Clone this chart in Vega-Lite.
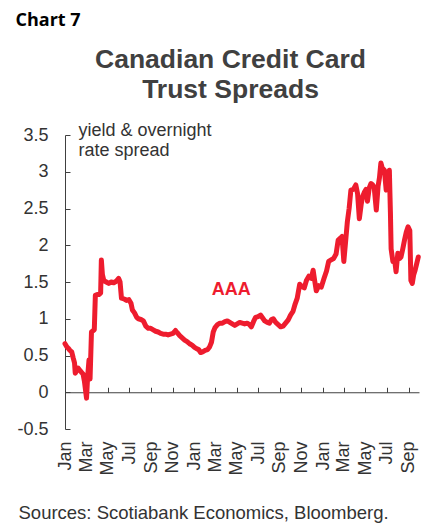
{
  "$schema": "https://vega.github.io/schema/vega-lite/v6.json",
  "width": 354,
  "height": 294,
  "autosize": {"type": "none"},
  "padding": {"left": 65, "top": 135, "right": 9, "bottom": 94},
  "background": "white",
  "config": {
    "view": {"stroke": null},
    "font": "Liberation Sans",
    "axis": {
      "grid": false,
      "domainColor": "#404040",
      "tickColor": "#404040",
      "labelColor": "#333333",
      "labelFont": "Liberation Sans",
      "labelFontSize": 18,
      "titleFont": "Liberation Sans",
      "titleFontWeight": "normal",
      "titleFontSize": 18,
      "titleColor": "#333333"
    }
  },
  "datasets": {
    "series": [
      {"date": "2020-01-01", "value": 0.66},
      {"date": "2020-01-06", "value": 0.62},
      {"date": "2020-01-10", "value": 0.60},
      {"date": "2020-01-15", "value": 0.57},
      {"date": "2020-01-20", "value": 0.55},
      {"date": "2020-01-24", "value": 0.47},
      {"date": "2020-01-28", "value": 0.40},
      {"date": "2020-01-30", "value": 0.26},
      {"date": "2020-02-04", "value": 0.30},
      {"date": "2020-02-07", "value": 0.33},
      {"date": "2020-02-12", "value": 0.30},
      {"date": "2020-02-17", "value": 0.27},
      {"date": "2020-02-21", "value": 0.25},
      {"date": "2020-02-25", "value": 0.15},
      {"date": "2020-03-02", "value": -0.08},
      {"date": "2020-03-05", "value": 0.20},
      {"date": "2020-03-09", "value": 0.44},
      {"date": "2020-03-12", "value": 0.18},
      {"date": "2020-03-16", "value": 0.82},
      {"date": "2020-03-24", "value": 0.85},
      {"date": "2020-03-27", "value": 1.32},
      {"date": "2020-04-01", "value": 1.33},
      {"date": "2020-04-06", "value": 1.33},
      {"date": "2020-04-11", "value": 1.35},
      {"date": "2020-04-13", "value": 1.80},
      {"date": "2020-04-16", "value": 1.60},
      {"date": "2020-04-20", "value": 1.52},
      {"date": "2020-04-27", "value": 1.50},
      {"date": "2020-05-04", "value": 1.48},
      {"date": "2020-05-11", "value": 1.50},
      {"date": "2020-05-18", "value": 1.49},
      {"date": "2020-05-25", "value": 1.51},
      {"date": "2020-06-01", "value": 1.55},
      {"date": "2020-06-05", "value": 1.50},
      {"date": "2020-06-09", "value": 1.28},
      {"date": "2020-06-16", "value": 1.27},
      {"date": "2020-06-23", "value": 1.25},
      {"date": "2020-06-30", "value": 1.26},
      {"date": "2020-07-06", "value": 1.21},
      {"date": "2020-07-10", "value": 1.12},
      {"date": "2020-07-16", "value": 1.08},
      {"date": "2020-07-22", "value": 1.02},
      {"date": "2020-07-27", "value": 1.00},
      {"date": "2020-08-03", "value": 0.99},
      {"date": "2020-08-10", "value": 0.97},
      {"date": "2020-08-17", "value": 0.90},
      {"date": "2020-08-24", "value": 0.87},
      {"date": "2020-08-31", "value": 0.87},
      {"date": "2020-09-07", "value": 0.85},
      {"date": "2020-09-14", "value": 0.83},
      {"date": "2020-09-21", "value": 0.82},
      {"date": "2020-09-28", "value": 0.80},
      {"date": "2020-10-05", "value": 0.79},
      {"date": "2020-10-12", "value": 0.79},
      {"date": "2020-10-19", "value": 0.78},
      {"date": "2020-10-26", "value": 0.79},
      {"date": "2020-11-02", "value": 0.80},
      {"date": "2020-11-09", "value": 0.84},
      {"date": "2020-11-14", "value": 0.81},
      {"date": "2020-11-21", "value": 0.77},
      {"date": "2020-11-28", "value": 0.74},
      {"date": "2020-12-05", "value": 0.71},
      {"date": "2020-12-12", "value": 0.69},
      {"date": "2020-12-19", "value": 0.66},
      {"date": "2020-12-26", "value": 0.64},
      {"date": "2021-01-02", "value": 0.61},
      {"date": "2021-01-09", "value": 0.59},
      {"date": "2021-01-14", "value": 0.58},
      {"date": "2021-01-19", "value": 0.54},
      {"date": "2021-01-25", "value": 0.55},
      {"date": "2021-02-01", "value": 0.57},
      {"date": "2021-02-08", "value": 0.58},
      {"date": "2021-02-14", "value": 0.62},
      {"date": "2021-02-19", "value": 0.68},
      {"date": "2021-02-24", "value": 0.82},
      {"date": "2021-03-01", "value": 0.88},
      {"date": "2021-03-08", "value": 0.92},
      {"date": "2021-03-15", "value": 0.94},
      {"date": "2021-03-22", "value": 0.94},
      {"date": "2021-03-29", "value": 0.96},
      {"date": "2021-04-05", "value": 0.97},
      {"date": "2021-04-12", "value": 0.95},
      {"date": "2021-04-19", "value": 0.93},
      {"date": "2021-04-26", "value": 0.91},
      {"date": "2021-05-03", "value": 0.93},
      {"date": "2021-05-10", "value": 0.95},
      {"date": "2021-05-17", "value": 0.94},
      {"date": "2021-05-24", "value": 0.93},
      {"date": "2021-05-31", "value": 0.94},
      {"date": "2021-06-07", "value": 0.92},
      {"date": "2021-06-12", "value": 0.89},
      {"date": "2021-06-18", "value": 0.96},
      {"date": "2021-06-24", "value": 1.02},
      {"date": "2021-07-01", "value": 1.03},
      {"date": "2021-07-08", "value": 1.05},
      {"date": "2021-07-14", "value": 1.01},
      {"date": "2021-07-20", "value": 0.97},
      {"date": "2021-07-27", "value": 0.95},
      {"date": "2021-08-02", "value": 0.94},
      {"date": "2021-08-08", "value": 0.99},
      {"date": "2021-08-13", "value": 1.00},
      {"date": "2021-08-20", "value": 0.95},
      {"date": "2021-08-27", "value": 0.92},
      {"date": "2021-09-03", "value": 0.89},
      {"date": "2021-09-10", "value": 0.90},
      {"date": "2021-09-17", "value": 0.94},
      {"date": "2021-09-24", "value": 0.98},
      {"date": "2021-10-01", "value": 1.05},
      {"date": "2021-10-08", "value": 1.10},
      {"date": "2021-10-14", "value": 1.20},
      {"date": "2021-10-20", "value": 1.28},
      {"date": "2021-10-27", "value": 1.47},
      {"date": "2021-11-02", "value": 1.44},
      {"date": "2021-11-09", "value": 1.42},
      {"date": "2021-11-15", "value": 1.52},
      {"date": "2021-11-22", "value": 1.58},
      {"date": "2021-11-29", "value": 1.55},
      {"date": "2021-12-04", "value": 1.66},
      {"date": "2021-12-09", "value": 1.50},
      {"date": "2021-12-13", "value": 1.38},
      {"date": "2021-12-20", "value": 1.45},
      {"date": "2021-12-27", "value": 1.43},
      {"date": "2022-01-04", "value": 1.55},
      {"date": "2022-01-11", "value": 1.65},
      {"date": "2022-01-17", "value": 1.78},
      {"date": "2022-01-24", "value": 1.80},
      {"date": "2022-01-31", "value": 1.82},
      {"date": "2022-02-07", "value": 1.88},
      {"date": "2022-02-13", "value": 2.07},
      {"date": "2022-02-20", "value": 2.10},
      {"date": "2022-02-24", "value": 2.12},
      {"date": "2022-03-01", "value": 1.78},
      {"date": "2022-03-07", "value": 2.10},
      {"date": "2022-03-11", "value": 2.32},
      {"date": "2022-03-16", "value": 2.50},
      {"date": "2022-03-21", "value": 2.75},
      {"date": "2022-03-28", "value": 2.76},
      {"date": "2022-04-04", "value": 2.82},
      {"date": "2022-04-09", "value": 2.70},
      {"date": "2022-04-14", "value": 2.36},
      {"date": "2022-04-19", "value": 2.55},
      {"date": "2022-04-23", "value": 2.66},
      {"date": "2022-04-28", "value": 2.72},
      {"date": "2022-05-03", "value": 2.76},
      {"date": "2022-05-07", "value": 2.60},
      {"date": "2022-05-12", "value": 2.78},
      {"date": "2022-05-17", "value": 2.84},
      {"date": "2022-05-22", "value": 2.82},
      {"date": "2022-05-26", "value": 2.79},
      {"date": "2022-06-01", "value": 2.48},
      {"date": "2022-06-06", "value": 2.80},
      {"date": "2022-06-10", "value": 2.92},
      {"date": "2022-06-14", "value": 3.12},
      {"date": "2022-06-18", "value": 3.05},
      {"date": "2022-06-24", "value": 3.02},
      {"date": "2022-06-29", "value": 2.75},
      {"date": "2022-07-04", "value": 2.95},
      {"date": "2022-07-08", "value": 3.02},
      {"date": "2022-07-11", "value": 2.45},
      {"date": "2022-07-13", "value": 1.95},
      {"date": "2022-07-18", "value": 1.78},
      {"date": "2022-07-23", "value": 1.80},
      {"date": "2022-07-27", "value": 1.64},
      {"date": "2022-08-01", "value": 1.89},
      {"date": "2022-08-06", "value": 1.82},
      {"date": "2022-08-10", "value": 1.84},
      {"date": "2022-08-15", "value": 1.95},
      {"date": "2022-08-20", "value": 2.07},
      {"date": "2022-08-25", "value": 2.18},
      {"date": "2022-08-30", "value": 2.25},
      {"date": "2022-09-04", "value": 2.20},
      {"date": "2022-09-07", "value": 1.52},
      {"date": "2022-09-11", "value": 1.48},
      {"date": "2022-09-15", "value": 1.60},
      {"date": "2022-09-19", "value": 1.66},
      {"date": "2022-09-23", "value": 1.74},
      {"date": "2022-09-28", "value": 1.84}
    ],
    "labels": [
      {"date": "2021-04-16", "value": 1.32, "label": "AAA"}
    ]
  },
  "layer": [
    {
      "data": {"name": "series"},
      "mark": {"type": "line", "color": "#EE1C2E", "strokeWidth": 5, "strokeJoin": "round", "strokeCap": "round"},
      "encoding": {
        "x": {
          "field": "date",
          "type": "temporal",
          "scale": {"type": "utc", "domain": [{"year": 2020, "month": 1, "date": 1, "utc": true}, {"year": 2022, "month": 9, "date": 30, "utc": true}]},
          "axis": {
            "orient": "bottom",
            "offset": -36.75,
            "tickCount": {"interval": "month", "step": 2},
            "labels": false,
            "tickSize": -5,
            "domainWidth": 1,
            "title": "Chart 7",
            "titleX": -50,
            "titleY": -367,
            "titleAlign": "left",
            "titleBaseline": "alphabetic",
            "titleFont": "Open Sans",
            "titleFontWeight": "bold",
            "titleFontSize": 18,
            "titleColor": "#000000"
          }
        },
        "y": {
          "field": "value",
          "type": "quantitative",
          "scale": {"domain": [-0.5, 3.5], "nice": false, "zero": false},
          "axis": {
            "orient": "left",
            "values": [-0.5, 0, 0.5, 1, 1.5, 2, 2.5, 3, 3.5],
            "labelExpr": "'' + datum.value",
            "tickSize": -5,
            "labelPadding": 22,
            "title": ["yield & overnight", "rate spread"],
            "titleAngle": 0,
            "titleX": 13,
            "titleY": 0,
            "titleAlign": "left",
            "titleBaseline": "alphabetic",
            "titleLineHeight": 20
          }
        }
      }
    },
    {
      "data": {"name": "labels"},
      "mark": {"type": "text", "color": "#EE1C2E", "fontWeight": "bold", "fontSize": 18, "font": "Liberation Sans", "align": "center", "baseline": "alphabetic"},
      "encoding": {
        "x": {
          "field": "date",
          "type": "temporal",
          "axis": {
            "orient": "bottom",
            "tickCount": {"interval": "month", "step": 2},
            "format": "%b",
            "labelAngle": 270,
            "ticks": false,
            "tickSize": 0,
            "domain": false,
            "labelPadding": 12,
            "labelFlush": false,
            "labelOverlap": false,
            "title": "Sources: Scotiabank Economics, Bloomberg.",
            "titleX": -47,
            "titleY": 89,
            "titleAlign": "left",
            "titleBaseline": "alphabetic",
            "titleFontSize": 18.5
          }
        },
        "y": {
          "field": "value",
          "type": "quantitative",
          "axis": {
            "orient": "right",
            "domain": false,
            "ticks": false,
            "labels": false,
            "title": ["Canadian Credit Card", "Trust Spreads"],
            "titleAngle": 0,
            "titleX": -189,
            "titleY": -68,
            "titleAlign": "center",
            "titleBaseline": "alphabetic",
            "titleFontSize": 26.5,
            "titleFontWeight": "bold",
            "titleColor": "#404040",
            "titleLineHeight": 30
          }
        },
        "text": {"field": "label"}
      }
    }
  ],
  "resolve": {"axis": {"x": "independent", "y": "independent"}}
}
